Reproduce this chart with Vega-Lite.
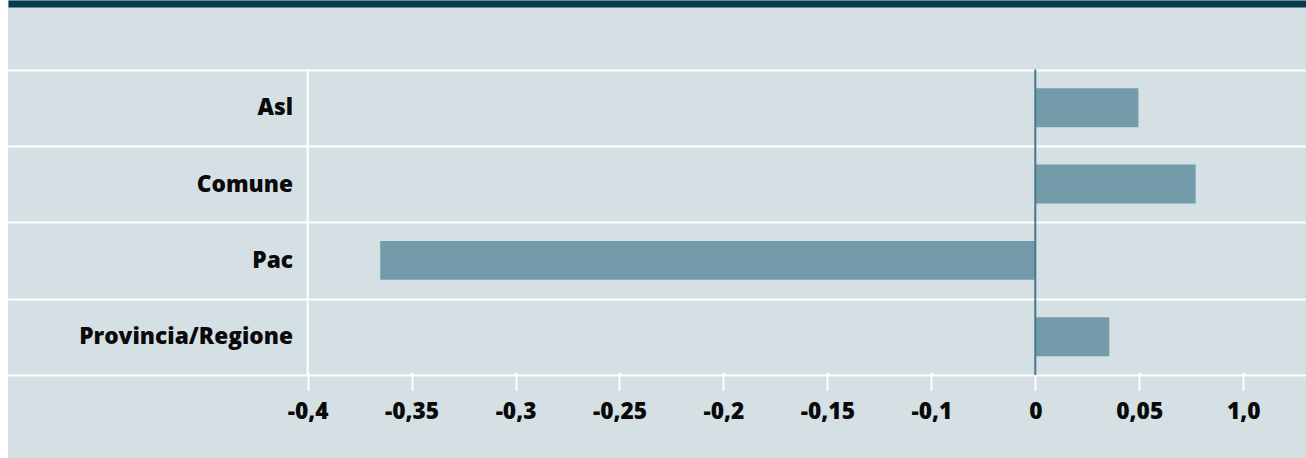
{
  "$schema": "https://vega.github.io/schema/vega-lite/v6.json",
  "width": 1298,
  "height": 458,
  "autosize": {"type": "none"},
  "padding": {"left": 8, "top": 0, "right": 0, "bottom": 0},
  "background": "#ffffff",
  "config": {
    "view": {"fill": "#d5e0e5", "stroke": null},
    "font": "Open Sans",
    "axis": {"labelFont": "Open Sans", "labelFontWeight": 800, "labelFontSize": 22.7, "labelColor": "#0a0a0a", "labelLimit": 0}
  },
  "data": {
    "values": [
      {"categoria": "Asl", "valore": 0.0496},
      {"categoria": "Comune", "valore": 0.0771},
      {"categoria": "Pac", "valore": -0.3151},
      {"categoria": "Provincia/Regione", "valore": 0.0356}
    ]
  },
  "resolve": {"axis": {"x": "independent"}},
  "layer": [
    {
      "mark": {"type": "bar", "color": "#739ba9", "height": {"band": 0.51}},
      "encoding": {
        "y": {
          "field": "categoria",
          "type": "nominal",
          "sort": ["Asl", "Comune", "Pac", "Provincia/Regione"],
          "scale": {"paddingInner": 0, "paddingOuter": 1.0533, "align": 0.4557},
          "axis": {
            "title": null,
            "orient": "left",
            "offset": -300,
            "domain": false,
            "ticks": false,
            "tickSize": 0,
            "labelPadding": 15.5,
            "labelLimit": 0,
            "grid": true,
            "gridColor": "#ffffff",
            "gridWidth": 2,
            "gridOpacity": 1,
            "tickBand": "extent"
          }
        },
        "x": {
          "field": "valore",
          "type": "quantitative",
          "scale": {"domain": [-0.49413, 0.13021], "nice": false, "zero": false},
          "axis": {
            "title": null,
            "orient": "bottom",
            "offset": -86,
            "values": [-0.35, -0.3, -0.25, -0.2, -0.15, -0.1, -0.05, 0, 0.05, 0.1],
            "labelExpr": "['-0,4','-0,35','-0,3','-0,25','-0,2','-0,15','-0,1','0','0,05','1,0'][round(datum.value*20)+7]",
            "domain": false,
            "grid": false,
            "ticks": true,
            "tickColor": "#ffffff",
            "tickWidth": 2,
            "tickSize": 18,
            "labelPadding": 10.5,
            "labelFlush": false,
            "labelOverlap": false
          }
        }
      }
    },
    {
      "mark": {"type": "bar", "fill": null, "stroke": "#ffffff", "strokeWidth": 2, "height": {"band": 1}},
      "encoding": {
        "y": {"field": "categoria", "type": "nominal", "sort": ["Asl", "Comune", "Pac", "Provincia/Regione"]},
        "x": {"datum": -0.35, "type": "quantitative", "axis": null},
        "x2": {"datum": -0.35}
      }
    },
    {
      "mark": {"type": "bar", "fill": null, "stroke": "#46798a", "strokeWidth": 2, "height": {"band": 1}},
      "encoding": {
        "y": {"field": "categoria", "type": "nominal", "sort": ["Asl", "Comune", "Pac", "Provincia/Regione"]},
        "x": {
          "datum": 0,
          "type": "quantitative",
          "axis": {
            "orient": "top",
            "title": null,
            "offset": -3.5,
            "domain": true,
            "domainColor": "#033b4b",
            "domainWidth": 7,
            "ticks": false,
            "labels": false,
            "grid": false
          }
        },
        "x2": {"datum": 0}
      }
    }
  ]
}
